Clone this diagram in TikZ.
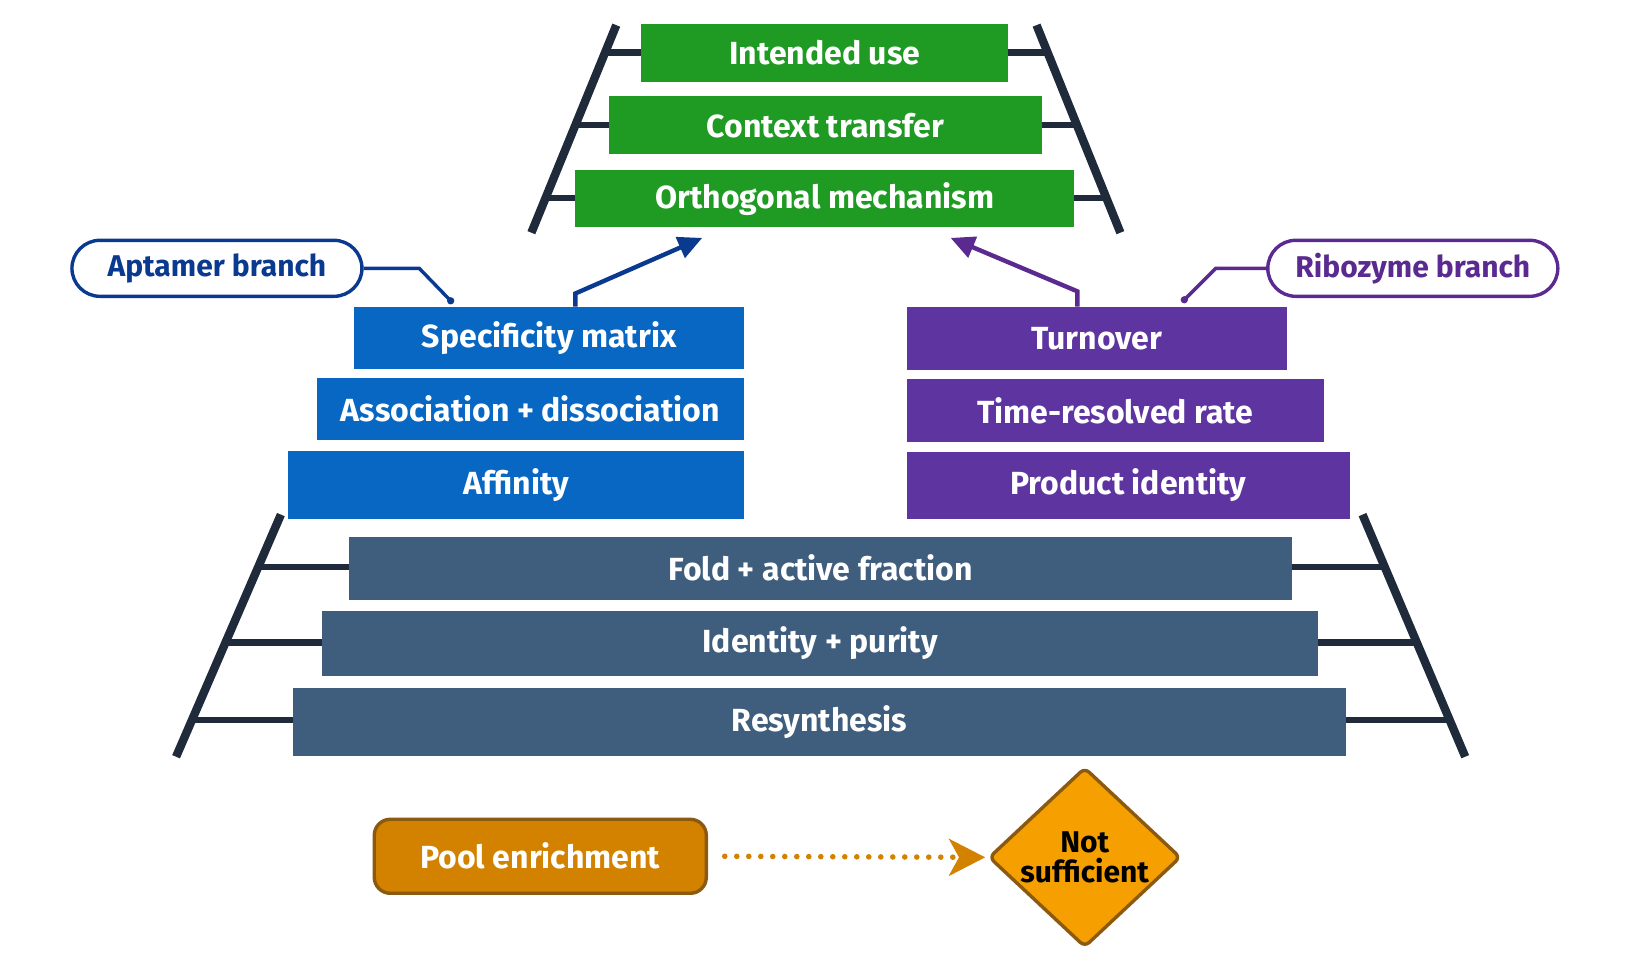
\documentclass[tikz,border=0pt]{standalone}
\usepackage{fontspec}
\setmainfont{Fira Sans}
\usetikzlibrary{shapes.geometric,arrows.meta}
\definecolor{gr}{HTML}{1F9A22}
\definecolor{bl}{HTML}{0767C2}
\definecolor{pu}{HTML}{5E35A0}
\definecolor{sl}{HTML}{3F5E7D}
\definecolor{rail}{HTML}{1F2A3A}
\definecolor{org}{HTML}{D38200}
\definecolor{orgd}{HTML}{8B5A10}
\definecolor{dia}{HTML}{F5A000}
\definecolor{apt}{HTML}{0A3A8F}
\definecolor{rib}{HTML}{5A2A90}
\begin{document}
\begin{tikzpicture}[x=0.524pt,y=-0.524pt,
 box/.style={draw=none,inner sep=0,text=white,font=\bfseries\fontsize{16}{18}\selectfont},
 rl/.style={rail,line width=4.2pt},
 rg/.style={rail,line width=3.2pt},
 pill/.style={draw,line width=1.7pt,rounded corners=14pt,fill=white,minimum width=145pt,minimum height=28pt,font=\bfseries\fontsize{15}{17}\selectfont}]
\useasboundingbox (0,0) rectangle (1560,918);
\newcommand\bx[7]{\node[box,fill=#6,minimum width={(#3-#2)*0.524pt},minimum height={(#5-#4)*0.524pt}] (#1) at ({(#2+#3)/2},{(#4+#5)/2}) {#7};}
% top ladder
\draw[rl] (507,222) -- (588,24);
\draw[rl] (989,24) -- (1069,222);
\draw[rg] (578,50) -- (612,50); \draw[rg] (550,119) -- (581,119); \draw[rg] (521,189) -- (549,189);
\draw[rg] (962,50) -- (999,50); \draw[rg] (994,119) -- (1027,119); \draw[rg] (1025,189) -- (1056,189);
\bx{iu}{612}{962}{23}{78}{gr}{Intended use}
\bx{ct}{581}{994}{92}{147}{gr}{Context transfer}
\bx{om}{549}{1025}{162}{217}{gr}{Orthogonal mechanism}
% bottom ladder
\draw[rl] (168,722) -- (268,491);
\draw[rl] (1300,491) -- (1398,722);
\draw[rg] (247,541) -- (333,541); \draw[rg] (216,613) -- (307,613); \draw[rg] (184,687) -- (280,687);
\draw[rg] (1233,541) -- (1321,541); \draw[rg] (1258,613) -- (1352,613); \draw[rg] (1284,687) -- (1383,687);
\bx{sm}{338}{710}{293}{352}{bl}{Specificity matrix}
\bx{ad}{302}{710}{361}{420}{bl}{Association + dissociation}
\bx{af}{275}{710}{430}{495}{bl}{Affinity}
\bx{to}{865}{1228}{293}{353}{pu}{Turnover}
\bx{tr}{865}{1263}{362}{422}{pu}{Time-resolved rate}
\bx{pi}{865}{1288}{431}{495}{pu}{Product identity}
\bx{fa}{333}{1233}{512}{572}{sl}{Fold + active fraction}
\bx{ip}{307}{1258}{583}{645}{sl}{Identity + purity}
\bx{rs}{280}{1284}{656}{721}{sl}{Resynthesis}
% branch pills
\node[pill,draw=apt,text=apt] (ap) at (207,256) {Aptamer branch};
\node[pill,draw=rib,text=rib] (rb) at (1348,256) {Ribozyme branch};
\coordinate (ad1) at (430,287);
\coordinate (rd1) at (1130,286);
\draw[apt,line width=1.7pt] (ap.east) -- (400,256) -- (ad1);
\fill[apt] (ad1) circle (3.5);
\draw[rib,line width=1.7pt] (rb.west) -- (1160,256) -- (rd1);
\fill[rib] (rd1) circle (3.5);
% arrows
\coordinate (ba) at (670,227);
\coordinate (pa) at (907,227);
\draw[apt,line width=2.2pt,-{Triangle[length=12pt,width=11pt]}] (sm.north -| 549,0) -- (549,280) -- (ba);
\draw[rib,line width=2.2pt,-{Triangle[length=12pt,width=11pt]}] (to.north -| 1028,0) -- (1028,278) -- (pa);
% bottom
\node[draw=orgd,line width=1.7pt,fill=org,rounded corners=8pt,minimum width=166pt,minimum height=37pt,text=white,font=\bfseries\fontsize{16}{18}\selectfont] (pe) at (515.5,817) {Pool enrichment};
\node[diamond,draw=orgd,line width=1.7pt,fill=dia,minimum width=96pt,minimum height=84pt,inner sep=0,align=center,rounded corners=3pt,font=\bfseries\fontsize{15}{15}\selectfont] (ns) at (1035,818) {Not\\sufficient};
\draw[org,line width=2.8pt,line cap=round,dash pattern=on 0pt off 6pt] (pe.east) ++(16,0) -- (ns.west);
\fill[org] (905,800) -- (940,818) -- (905,836) -- (915,818) -- cycle;
\end{tikzpicture}
\end{document}
